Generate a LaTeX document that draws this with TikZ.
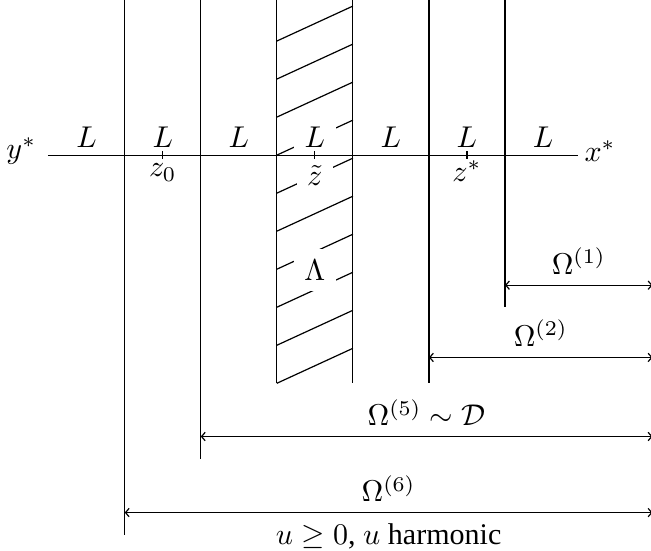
\documentclass[tikz,border=0pt]{standalone}
\usepackage{fontspec}
\setmainfont{Liberation Serif}
\usetikzlibrary{arrows.meta}
\tikzset{
  wall/.style={line width=0.4pt},
  hatchline/.style={line width=0.4pt},
  seglabel/.style={inner sep=1pt},
  cutlabel/.style={fill=white,inner sep=3.5pt},
  tick/.style={line width=0.4pt},
  domarr/.style={{Straight Barb[length=1.2pt,width=2.8pt]}-{Straight Barb[length=1.2pt,width=2.8pt]},
                 line width=0.4pt},
}

\begin{document}
\begin{tikzpicture}[x=0.89cm,y=0.89cm]
    \path[use as bounding box] (-3.64,-5.2) rectangle (4.92,2.04);
    % hatched strip
    \draw[hatchline] (0,1.5) -- (1,1.96);
    \draw[hatchline] (0,1.0) -- (1,1.46);
    \draw[hatchline] (0,0.5) -- (1,0.96);
    \draw[hatchline] (0,0.0) -- (1,0.46);
    \draw[hatchline] (0,-0.5) -- (1,-0.04);
    \draw[hatchline] (0,-1.0) -- (1,-0.54);
    \draw[hatchline] (0,-1.5) -- (1,-1.04);
    \draw[hatchline] (0,-2.0) -- (1,-1.54);
    \draw[hatchline] (0,-2.5) -- (1,-2.04);
    \draw[hatchline] (0,-3.0) -- (1,-2.54);

    \node[seglabel] (l1) at (-2.5,0.24) {$L$};
    \node[seglabel] (l2) at (-1.5,0.24) {$L$};
    \node[seglabel] (l3) at (-0.5,0.24) {$L$};
    \node[cutlabel] (l4) at (0.5,0.24) {$L$};
    \node[seglabel] (l5) at (1.5,0.24) {$L$};
    \node[seglabel] (l6) at (2.5,0.24) {$L$};
    \node[seglabel] (l7) at (3.5,0.24) {$L$};
    \node[seglabel] (z0) at (-1.5,-0.23) {$z_0$};
    \node[cutlabel] (zt) at (0.5,-0.27) {$\tilde z$};
    \node[seglabel] (zs) at (2.5,-0.21) {$z^*$};
    \node[cutlabel] (lam) at (0.5,-1.51) {$\Lambda$};
    \node (ys) at (-3.36,0.05) {$y^*$};
    \node (xs) at (4.25,0.05) {$x^*$};

    \coordinate (ax0) at (-3.01,0);
    \coordinate (ax1) at (3.96,0);
    \draw[wall] (ax0) -- (ax1);
    \draw[tick] (-1.5,-0.05) -- (-1.5,0.06);
    \draw[tick] (0.5,-0.05) -- (0.5,0.06);
    \draw[tick] (2.5,-0.05) -- (2.5,0.06);

    \draw[wall] (-2,2.1) -- (-2,-5.0);
    \draw[wall] (-1,2.1) -- (-1,-4.0);
    \draw[wall] (0,2.1) -- (0,-3.0);
    \draw[wall] (1,2.1) -- (1,-3.0);
    \draw[wall] (2,2.1) -- (2,-3.0);
    \draw[wall] (3,2.1) -- (3,-2.0);

    \coordinate (w1) at (3,-1.71);  \coordinate (e1) at (4.94,-1.71);
    \coordinate (w2) at (2,-2.66);  \coordinate (e2) at (4.94,-2.66);
    \coordinate (w5) at (-1,-3.7);  \coordinate (e5) at (4.94,-3.7);
    \coordinate (w6) at (-2,-4.7);  \coordinate (e6) at (4.94,-4.7);
    \draw[domarr] (w1) -- node[above] (om1) {$\Omega^{(1)}$} (e1);
    \draw[domarr] (w2) -- node[above] (om2) {$\Omega^{(2)}$} (e2);
    \draw[domarr] (w5) -- node[above] (om5) {$\Omega^{(5)}\sim\mathcal{D}$} (e5);
    \draw[domarr] (w6) -- node[above] (om6) {$\Omega^{(6)}$}
                         node[below] (harm) {$u\geq0$, $u$ harmonic} (e6);
  \end{tikzpicture}
\end{document}
